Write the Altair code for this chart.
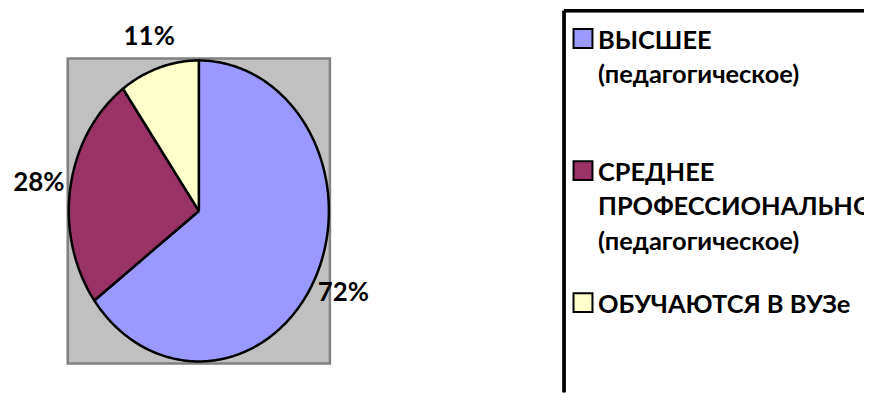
import numpy as np
import pandas as pd
import altair as alt

# ---- data ----
categories = ["ВЫСШЕЕ (педагогическое)",
              "СРЕДНЕЕ ПРОФЕССИОНАЛЬНОЕ (педагогическое)",
              "ОБУЧАЮТСЯ В ВУЗе"]
values = [72, 28, 11]
value_labels = ["72%", "28%", "11%"]
legend_lines = [["ВЫСШЕЕ", "(педагогическое)"],
                ["СРЕДНЕЕ", "ПРОФЕССИОНАЛЬНОЕ", "(педагогическое)"],
                ["ОБУЧАЮТСЯ В ВУЗе"]]
colors = ["#9999FF", "#993366", "#FFFFCC"]

# ---- layout constants ----
FONT = "Lato"
W1, H = 337, 383          # pie panel
W2 = 301                  # legend panel
PX_X, PX_Y = 130.5, 151.0 # pixels per unit radius
CX, CY = 185.5, 201.0     # centre of pie inside pie panel (px)
xdom = [-CX / PX_X, (W1 - CX) / PX_X]
ydom = [-(H - CY) / PX_Y, CY / PX_Y]

# ---- pie wedges as closed outlines ----
total = float(sum(values))
rows, lab_rows = [], []
start = 0.0
for cat, v, lab in zip(categories, values, value_labels):
    a0 = start / total * 2 * np.pi
    a1 = (start + v) / total * 2 * np.pi
    n = int(np.degrees(a1 - a0)) + 2
    pts = [(0.0, 0.0)] + [(np.sin(t), np.cos(t)) for t in np.linspace(a0, a1, n)] + [(0.0, 0.0)]
    for i, (x, y) in enumerate(pts):
        rows.append({"cat": cat, "ord": i, "x": x, "y": y})
    m = (a0 + a1) / 2
    lab_rows.append({"cat": cat, "label": lab,
                     "x": np.sin(m) * (1 + 32 / PX_X),
                     "y": np.cos(m) * (1 + 32 / PX_Y)})
    start += v
wedges = pd.DataFrame(rows)
labels = pd.DataFrame(lab_rows)

xs = alt.Scale(domain=xdom, nice=False, zero=False)
ys = alt.Scale(domain=ydom, nice=False, zero=False)
cscale = alt.Scale(domain=categories, range=colors)

bg = alt.Chart(pd.DataFrame({"x": [-1.008], "x2": [1.008], "y": [-1.013], "y2": [1.013]})).mark_rect(
    fill="#C0C0C0", stroke="#808080", strokeWidth=2.5
).encode(
    x=alt.X("x:Q", scale=xs, axis=None), x2="x2:Q",
    y=alt.Y("y:Q", scale=ys, axis=None), y2="y2:Q",
)

pie = alt.Chart(wedges).mark_line(
    stroke="black", strokeWidth=2.5, strokeJoin="round"
).encode(
    x=alt.X("x:Q", scale=xs, axis=None),
    y=alt.Y("y:Q", scale=ys, axis=None),
    order="ord:Q",
    detail="cat:N",
    fill=alt.Fill("cat:N", scale=cscale, legend=None),
)

txt = alt.Chart(labels).mark_text(
    font=FONT, fontSize=26, fontWeight="bold", color="black",
    align="center", baseline="middle"
).encode(
    x=alt.X("x:Q", scale=xs, axis=None),
    y=alt.Y("y:Q", scale=ys, axis=None),
    text="label:N",
)

left = alt.layer(bg, pie, txt).properties(width=W1, height=H)

# ---- legend panel ----
LINE0, ENTRY_STEP, LINE_STEP = 38.0, 132.5, 35.0
leg_text, leg_sym = [], []
for i, (cat, lines) in enumerate(zip(categories, legend_lines)):
    base = LINE0 + i * ENTRY_STEP
    leg_sym.append({"cat": cat, "ly": base - 10.0})
    for j, ln in enumerate(lines):
        leg_text.append({"cat": cat, "line": ln, "ly": base + j * LINE_STEP})
leg_text = pd.DataFrame(leg_text)
leg_sym = pd.DataFrame(leg_sym)

lys = alt.Scale(domain=[0, H], reverse=True, nice=False, zero=False)

ltext = alt.Chart(leg_text).mark_text(
    font=FONT, fontSize=25.5, fontWeight="bold", color="black",
    align="left", baseline="alphabetic", clip=True
).encode(
    x=alt.value(34),
    y=alt.Y("ly:Q", scale=lys, axis=None),
    text="line:N",
)

lsym = alt.Chart(leg_sym).mark_square(
    size=361, stroke="black", strokeWidth=2, opacity=1
).encode(
    x=alt.value(19),
    y=alt.Y("ly:Q", scale=lys, axis=None),
    fill=alt.Fill("cat:N", scale=cscale, legend=None),
)

top_rule = alt.Chart(leg_sym).mark_rule(color="black", strokeWidth=3).encode(
    x=alt.value(0), x2=alt.value(W2), y=alt.value(0)
)
left_rule = alt.Chart(leg_sym).mark_rule(color="black", strokeWidth=3).encode(
    x=alt.value(0), y=alt.value(0), y2=alt.value(H)
)

right = alt.layer(top_rule, left_rule, lsym, ltext).properties(width=W2, height=H)

chart = alt.hconcat(left, right, spacing=215, bounds="flush").properties(
    padding={"left": 5, "top": 0, "right": 0, "bottom": 0},
).resolve_scale(y="independent", fill="shared").configure_view(stroke=None)

chart.save("out.html", embed_options={"renderer": "svg", "actions": False})
